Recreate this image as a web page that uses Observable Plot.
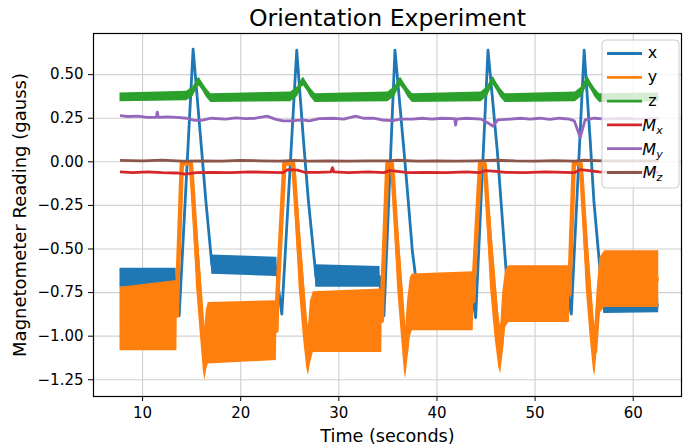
<!DOCTYPE html>
<html>
<head>
<meta charset="utf-8">
<script src="https://cdn.jsdelivr.net/npm/d3@7"></script>
<script src="https://cdn.jsdelivr.net/npm/@observablehq/plot@0.6"></script>
<style>
  body { margin: 0; background: #fff; }
  #chart { width: 683px; height: 447px; }
</style>
</head>
<body>
<div id="chart"></div>
<script>
// ---------- DATA ----------
// Noisy signals are given as [time, low edge, high edge]; thin traces as [time, value].
const timeTicks = [10, 20, 30, 40, 50, 60];
const readingTicks = [-1.25, -1.0, -0.75, -0.5, -0.25, 0.0, 0.25, 0.5];
const seriesNames = ["x", "y", "z", "Mx", "My", "Mz"];

const xBand = [
  [7.7, -0.72, -0.61], [13.42, -0.725, -0.61], [13.46, -0.75, -0.72], [13.73, -0.883, -0.883],
  [15.15, 0.646, 0.646], [15.94, 0.12, 0.12], [16.45, -0.224, -0.224], [16.96, -0.53, -0.53],
  [17.05, -0.645, -0.535], [23.7, -0.658, -0.547], [23.74, -0.69, -0.658], [24.19, -0.873, -0.873],
  [25.71, 0.64, 0.64], [26.4, 0.12, 0.12], [26.9, -0.224, -0.224], [27.55, -0.59, -0.59],
  [27.65, -0.72, -0.59], [34.2, -0.72, -0.60], [34.24, -0.75, -0.72], [34.6, -0.883, -0.883],
  [35.72, 0.64, 0.64], [36.64, 0.063, 0.063], [36.99, -0.166, -0.166], [37.49, -0.51, -0.51],
  [37.83, -0.663, -0.663], [37.95, -0.75, -0.66], [43.62, -0.76, -0.66], [43.66, -0.8, -0.76],
  [43.94, -0.893, -0.893], [45.2, 0.64, 0.64], [46.15, 0.063, 0.063], [47.17, -0.72, -0.72],
  [47.3, -0.8, -0.70], [53.45, -0.8, -0.70], [53.49, -0.82, -0.8], [53.69, -0.873, -0.873],
  [55.0, 0.64, 0.64], [55.62, 0.12, 0.12], [55.99, -0.224, -0.224], [56.9, -0.8, -0.8],
  [57.0, -0.87, -0.78], [62.6, -0.865, -0.78]
];

const yBand = [
  [7.7, -1.084, -0.72], [13.5, -1.084, -0.68], [13.56, -0.75, -0.68],
  [14.0, -0.02, 0.0], [14.92, -0.02, 0.0],
  [15.05, -0.2, -0.01], [15.5, -0.72, -0.3], [15.9, -1.0, -0.6], [16.2, -1.2, -0.88],
  [16.34, -1.256, -0.95], [16.5, -1.2, -0.85], [16.7, -1.16, -0.807],
  [23.64, -1.14, -0.797], [23.7, -0.84, -0.79],
  [24.45, -0.02, 0.0], [25.34, -0.02, 0.0],
  [25.47, -0.2, -0.01], [25.95, -0.72, -0.3], [26.38, -1.0, -0.6], [26.72, -1.18, -0.88],
  [26.9, -1.227, -0.95], [27.1, -1.16, -0.8], [27.4, -1.093, -0.745],
  [34.38, -1.093, -0.73], [34.44, -0.78, -0.72],
  [34.95, -0.02, 0.0], [35.4, -0.02, 0.0],
  [35.53, -0.2, -0.01], [35.98, -0.72, -0.3], [36.38, -1.0, -0.6], [36.67, -1.2, -0.88],
  [36.81, -1.246, -0.95], [37.0, -1.15, -0.8], [37.3, -1.0, -0.66], [37.5, -0.969, -0.644],
  [43.7, -0.969, -0.63], [43.77, -0.72, -0.62],
  [44.4, -0.02, 0.0], [44.85, -0.02, 0.0],
  [44.98, -0.2, -0.01], [45.45, -0.72, -0.3], [45.9, -1.0, -0.6], [46.3, -1.18, -0.88],
  [46.49, -1.217, -0.95], [46.7, -1.12, -0.75], [47.0, -0.95, -0.62], [47.33, -0.921, -0.596],
  [53.5, -0.921, -0.596], [53.56, -0.66, -0.59],
  [53.95, -0.02, 0.0], [54.63, -0.02, 0.0],
  [54.76, -0.2, -0.01], [55.2, -0.72, -0.3], [55.6, -1.0, -0.6], [55.95, -1.2, -0.88],
  [56.1, -1.227, -0.95], [56.3, -1.1, -0.75], [56.6, -0.87, -0.55], [57.1, -0.835, -0.51],
  [62.6, -0.835, -0.51]
];

const zBand = [
  [7.7, 0.345, 0.395], [14.5, 0.35, 0.405],
  [15.16, 0.375, 0.43], [15.6, 0.43, 0.475], [15.76, 0.435, 0.485], [16.1, 0.41, 0.455], [16.5, 0.37, 0.42], [16.96, 0.34, 0.39],
  [25.1, 0.345, 0.4],
  [25.8, 0.375, 0.43], [26.24, 0.43, 0.475], [26.4, 0.435, 0.485], [26.74, 0.41, 0.455], [27.14, 0.37, 0.42], [27.6, 0.34, 0.39],
  [35.0, 0.345, 0.4],
  [35.7, 0.375, 0.43], [36.14, 0.43, 0.475], [36.3, 0.435, 0.485], [36.64, 0.41, 0.455], [37.04, 0.37, 0.42], [37.5, 0.34, 0.39],
  [44.5, 0.345, 0.4],
  [45.14, 0.375, 0.43], [45.58, 0.43, 0.478], [45.74, 0.44, 0.49], [46.08, 0.41, 0.455], [46.48, 0.37, 0.42], [46.94, 0.34, 0.39],
  [54.1, 0.345, 0.4],
  [54.77, 0.375, 0.43], [55.21, 0.43, 0.478], [55.37, 0.44, 0.49], [55.71, 0.41, 0.455], [56.11, 0.37, 0.42], [56.57, 0.34, 0.39],
  [62.6, 0.345, 0.395]
];

const mxLine = [
  [7.7, -0.058], [9, -0.062], [10.5, -0.058], [12, -0.062], [13.5, -0.064], [14.3, -0.07], [15.5, -0.062],
  [17, -0.06], [19, -0.062], [21, -0.058], [23, -0.06], [24.3, -0.062], [24.8, -0.045], [25.8, -0.048],
  [26.5, -0.06], [28, -0.06], [29.2, -0.058], [29.35, -0.033], [29.5, -0.058], [31, -0.062], [33, -0.058],
  [34.6, -0.062], [35.2, -0.05], [36, -0.055], [37, -0.062], [39, -0.06], [41, -0.062], [43, -0.058],
  [44.3, -0.062], [45, -0.05], [46, -0.055], [47, -0.06], [49, -0.062], [51, -0.058], [53, -0.06],
  [54, -0.062], [54.6, -0.045], [55.5, -0.05], [56.5, -0.058], [58, -0.06], [60, -0.058], [62.6, -0.06]
];

const myLine = [
  [7.7, 0.265], [8.5, 0.26], [9.5, 0.262], [10.5, 0.255], [11.4, 0.255], [11.5, 0.285], [11.6, 0.255],
  [12.5, 0.258], [13.5, 0.255], [14.5, 0.25], [15.3, 0.238], [16, 0.238], [17, 0.25], [18.5, 0.245],
  [19.5, 0.252], [20.5, 0.248], [21.5, 0.25], [22.7, 0.262], [23.5, 0.245], [24.3, 0.235], [25.2, 0.235],
  [26.3, 0.24], [27, 0.235], [28, 0.248], [29.5, 0.25], [30.5, 0.245], [31.7, 0.262], [32.5, 0.25],
  [33.5, 0.25], [34.4, 0.24], [35.5, 0.236], [36.3, 0.245], [37.5, 0.245], [38.5, 0.25], [39.5, 0.245],
  [40.5, 0.25], [41.8, 0.248], [41.9, 0.21], [42.0, 0.245], [43, 0.25], [44.5, 0.245], [45.3, 0.22],
  [45.7, 0.205], [46.2, 0.24], [47.5, 0.245], [48.5, 0.25], [49.5, 0.245], [50.5, 0.25], [51.5, 0.243],
  [52.5, 0.25], [53.5, 0.245], [54.0, 0.235], [54.6, 0.14], [55.1, 0.24], [56, 0.25], [57.5, 0.245],
  [59, 0.25], [60.5, 0.245], [62.6, 0.25]
];

const mzLine = [
  [7.7, 0.008], [10, 0.006], [12, 0.01], [14, 0.004], [16, 0.006], [18, 0.004], [20, 0.008], [22, 0.006],
  [24, 0.004], [25.5, 0.008], [27, 0.004], [29, 0.006], [31, 0.004], [33, 0.006], [35, 0.005], [36, 0.009],
  [38, 0.004], [40, 0.006], [42, 0.004], [44, 0.006], [46, 0.009], [48, 0.005], [50, 0.004], [52, 0.007],
  [54, 0.004], [55, 0.009], [57, 0.005], [60, 0.006], [62.6, 0.005]
];

// ---------- STYLE ----------
const colors = ["#1f77b4", "#ff7f0e", "#2ca02c", "#d62728", "#9467bd", "#8c564b"];
const font = "DejaVu Sans";

const toBand = arr => arr.map(([t, lo, hi]) => ({t, lo, hi, mid: (lo + hi) / 2}));
const toLine = arr => arr.map(([t, v]) => ({t, v}));

const bands = [
  {rows: toBand(xBand), color: colors[0], w: 2.8},
  {rows: toBand(yBand), color: colors[1], w: 4.5},
  {rows: toBand(zBand), color: colors[2], w: 2.4}
];
const lines = [
  {rows: toLine(mxLine), color: colors[3], w: 2.8},
  {rows: toLine(myLine), color: colors[4], w: 2.8},
  {rows: toLine(mzLine), color: colors[5], w: 2.8}
];

const fmt = d => (d < 0 ? "\u2212" : "") + Math.abs(d).toFixed(2);

const marks = [
  Plot.gridX(timeTicks, {stroke: "#d0d0d0", strokeOpacity: 1, strokeWidth: 1.1}),
  Plot.gridY(readingTicks, {stroke: "#d0d0d0", strokeOpacity: 1, strokeWidth: 1.1})
];
for (const b of bands) {
  marks.push(Plot.areaY(b.rows, {x: "t", y1: "lo", y2: "hi", fill: b.color, fillOpacity: 1}));
  marks.push(Plot.line(b.rows, {x: "t", y: "mid", stroke: b.color, strokeWidth: b.w, strokeLinejoin: "round", strokeLinecap: "butt"}));
}
for (const l of lines) {
  marks.push(Plot.line(l.rows, {x: "t", y: "v", stroke: l.color, strokeWidth: l.w, strokeLinejoin: "round", strokeLinecap: "butt"}));
}
marks.push(
  Plot.axisX({ticks: timeTicks, tickSize: 5, tickPadding: 6, fontSize: 15, label: null, stroke: "black"}),
  Plot.axisY({ticks: readingTicks, tickFormat: fmt, tickSize: 5, tickPadding: 5, fontSize: 15, label: null, stroke: "black"}),
  Plot.frame({stroke: "black", strokeWidth: 1.2}),
  Plot.text(["Orientation Experiment"], {frameAnchor: "top", textAnchor: "middle", dy: -8, lineAnchor: "bottom", fontSize: 23.6, fill: "black"}),
  Plot.text(["Time (seconds)"], {frameAnchor: "bottom", textAnchor: "middle", dy: 45, lineAnchor: "bottom", fontSize: 17.6, fill: "black"}),
  Plot.text(["Magnetometer Reading (gauss)"], {frameAnchor: "left", textAnchor: "middle", dx: -68, rotate: -90, lineAnchor: "bottom", fontSize: 18, fill: "black"})
);

const chart = Plot.plot({
  width: 683,
  height: 447,
  marginLeft: 93,
  marginRight: 2,
  marginTop: 33,
  marginBottom: 51,
  style: {fontFamily: font, fontSize: "15px", color: "black", background: "white"},
  x: {domain: [5.0, 64.92], axis: null},
  y: {domain: [-1.346, 0.736], axis: null},
  marks
});
document.getElementById("chart").appendChild(chart);

// ---------- LEGEND (upper right, inside the axes) ----------
const svg = d3.select(chart);
const lg = svg.append("g");
const lx = 602, ly = 40, lw = 77, lh = 148;
lg.append("rect").attr("x", lx).attr("y", ly).attr("width", lw).attr("height", lh)
  .attr("rx", 4).attr("fill", "white").attr("fill-opacity", 0.8)
  .attr("stroke", "#cccccc").attr("stroke-width", 1);
seriesNames.forEach((name, i) => {
  const cy = ly + 13.5 + i * 23.8;
  lg.append("line").attr("x1", lx + 5).attr("x2", lx + 40).attr("y1", cy).attr("y2", cy)
    .attr("stroke", colors[i]).attr("stroke-width", 2.8);
  const txt = lg.append("text").attr("x", lx + 50.5).attr("font-family", font).attr("font-size", 16).attr("fill", "black");
  if (name.length === 1) {
    txt.attr("y", cy + 4.5).text(name);
  } else {
    txt.attr("y", cy + 5.8);
    txt.append("tspan").attr("font-style", "italic").text(name[0]);
    txt.append("tspan").attr("font-style", "italic").attr("font-size", 11).attr("dy", 3).text(name[1]);
  }
});
</script>
</body>
</html>
